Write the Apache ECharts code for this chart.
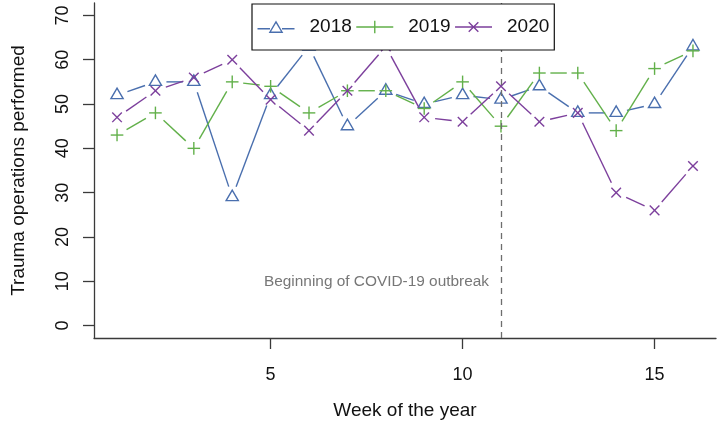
<!DOCTYPE html>
<html>
<head>
<meta charset="utf-8">
<script src="https://cdn.jsdelivr.net/npm/echarts@6/dist/echarts.min.js"></script>
<style>
html,body{margin:0;padding:0;background:#fff;}
#chart{width:722px;height:434px;}
</style>
</head>
<body>
<div id="chart"></div>
<script>
// ---- data ----
const weeks = [1,2,3,4,5,6,7,8,9,10,11,12,13,14,15,16];
const y2018 = [52,55,55,29,52,63,45,53,50,52,51,54,48,48,50,63];
const y2019 = [43,48,40,55,54,48,53,53,49,55,45,57,57,44,58,62];
const y2020 = [47,53,56,60,51,44,53,63,47,46,54,46,48,30,26,36];
const seriesNames = ['2018','2019','2020'];
const xTicks = [5,10,15];
const yTicks = [0,10,20,30,40,50,60,70];
const covidWeek = 11;
const covidLabel = 'Beginning of COVID-19 outbreak';
const covidLabelY = 10;

const FONT = '"Liberation Sans", Arial, Helvetica, sans-serif';
const colors = ['#4a6fae', '#62b04a', '#7c3f9c'];
const markers = ['triangle', 'plus', 'cross'];
const LW = 1.4;
const GAP = 11;

function markerShape(kind, px, py, color) {
  const st = {stroke: color, fill: 'none', lineWidth: LW};
  if (kind === 'triangle') {
    const w = 6.1, up = 7.0, dn = 3.5;
    return {type: 'polygon', shape: {points: [[px - w, py + dn], [px + w, py + dn], [px, py - up]]}, style: st};
  }
  if (kind === 'plus') {
    const a = 6.3;
    return {type: 'group', children: [
      {type: 'line', shape: {x1: px - a, y1: py, x2: px + a, y2: py}, style: st},
      {type: 'line', shape: {x1: px, y1: py - a, x2: px, y2: py + a}, style: st}
    ]};
  }
  const a = 4.8;
  return {type: 'group', children: [
    {type: 'line', shape: {x1: px - a, y1: py - a, x2: px + a, y2: py + a}, style: st},
    {type: 'line', shape: {x1: px - a, y1: py + a, x2: px + a, y2: py - a}, style: st}
  ]};
}

function makeSeries(name, vals, color, kind) {
  return {
    name: name,
    type: 'custom',
    coordinateSystem: 'cartesian2d',
    z: 2,
    itemStyle: {color: color},
    data: weeks.map((w, i) => [w, vals[i]]),
    encode: {x: 0, y: 1},
    renderItem: function (params, api) {
      const i = params.dataIndex;
      const p = api.coord([api.value(0), api.value(1)]);
      const children = [markerShape(kind, p[0], p[1], color)];
      if (i < weeks.length - 1) {
        const q = api.coord([weeks[i + 1], vals[i + 1]]);
        const dx = q[0] - p[0], dy = q[1] - p[1];
        const d = Math.sqrt(dx * dx + dy * dy);
        if (d > 2 * GAP) {
          const ux = dx / d, uy = dy / d;
          children.push({type: 'line', shape: {
            x1: p[0] + ux * GAP, y1: p[1] + uy * GAP,
            x2: q[0] - ux * GAP, y2: q[1] - uy * GAP
          }, style: {stroke: color, lineWidth: LW, fill: 'none'}});
        }
      }
      return {type: 'group', children: children};
    }
  };
}

const icons = [
  'path://M0,6.9 L12.5,6.9 M24.5,6.9 L37,6.9 M12.4,10.4 L24.6,10.4 L18.5,0 Z',
  'path://M0,6.3 L37,6.3 M18.5,0 L18.5,12.6',
  'path://M0,4.8 L37,4.8 M13.7,0 L23.3,9.6 M13.7,9.6 L23.3,0'
];

const chart = echarts.init(document.getElementById('chart'), null, {renderer: 'canvas'});
const option = {
  backgroundColor: '#ffffff',
  animation: false,
  textStyle: {fontFamily: FONT},
  grid: {left: 94, right: 6, top: 3, bottom: 96, containLabel: false},
  legend: {
    left: 252, top: 4,
    orient: 'horizontal',
    padding: [13.5, 5, 13.5, 3],
    itemGap: 2,
    itemWidth: 37,
    itemHeight: 13,
    borderColor: '#111',
    borderWidth: 1.2,
    borderRadius: 0,
    backgroundColor: '#ffffff',
    z: 20,
    selectedMode: false,
    textStyle: {fontSize: 19, color: '#111', fontFamily: FONT, padding: [0, 0, 0, 10]},
    data: seriesNames.map((n, k) => ({
      name: n, icon: icons[k],
      itemStyle: {color: 'none', borderColor: colors[k], borderWidth: LW}
    }))
  },
  xAxis: {
    type: 'value', min: 0.4, max: 16.6,
    name: 'Week of the year', nameLocation: 'middle', nameGap: 63,
    nameTextStyle: {fontSize: 19, color: '#111', fontFamily: FONT},
    splitLine: {show: false},
    axisLine: {show: true, onZero: false, lineStyle: {color: '#3a3a3a', width: 1.3}},
    axisTick: {show: true, inside: false, length: 11, customValues: xTicks, lineStyle: {color: '#3a3a3a', width: 1.3}},
    axisLabel: {show: true, margin: 28, fontSize: 18, color: '#111', fontFamily: FONT, customValues: xTicks, showMinLabel: true, showMaxLabel: true}
  },
  yAxis: {
    type: 'value', min: -2.8, max: 72.8,
    name: 'Trauma operations performed', nameLocation: 'middle', nameGap: 66, nameRotate: 90,
    nameTextStyle: {fontSize: 19, color: '#111', fontFamily: FONT},
    splitLine: {show: false},
    axisLine: {show: true, onZero: false, lineStyle: {color: '#3a3a3a', width: 1.3}},
    axisTick: {show: true, inside: false, length: 11, customValues: yTicks, lineStyle: {color: '#3a3a3a', width: 1.3}},
    axisLabel: {show: true, rotate: 90, margin: 22, fontSize: 18, color: '#111', fontFamily: FONT, customValues: yTicks}
  },
  series: [
    {
      name: 'covid', type: 'line', data: [], silent: true, z: 1,
      markLine: {
        silent: true, symbol: ['none', 'none'], animation: false,
        label: {show: false},
        lineStyle: {type: [6, 5], color: '#6e6e6e', width: 1.3},
        data: [{xAxis: covidWeek}]
      },
      markPoint: {
        silent: true, animation: false,
        symbol: 'circle', symbolSize: 0,
        label: {show: true, position: 'left', distance: 12, formatter: covidLabel, fontSize: 15.4, color: '#777', fontFamily: FONT},
        data: [{coord: [covidWeek, covidLabelY]}]
      }
    },
    makeSeries(seriesNames[0], y2018, colors[0], markers[0]),
    makeSeries(seriesNames[1], y2019, colors[1], markers[1]),
    makeSeries(seriesNames[2], y2020, colors[2], markers[2])
  ]
};
chart.setOption(option);
</script>
</body>
</html>
